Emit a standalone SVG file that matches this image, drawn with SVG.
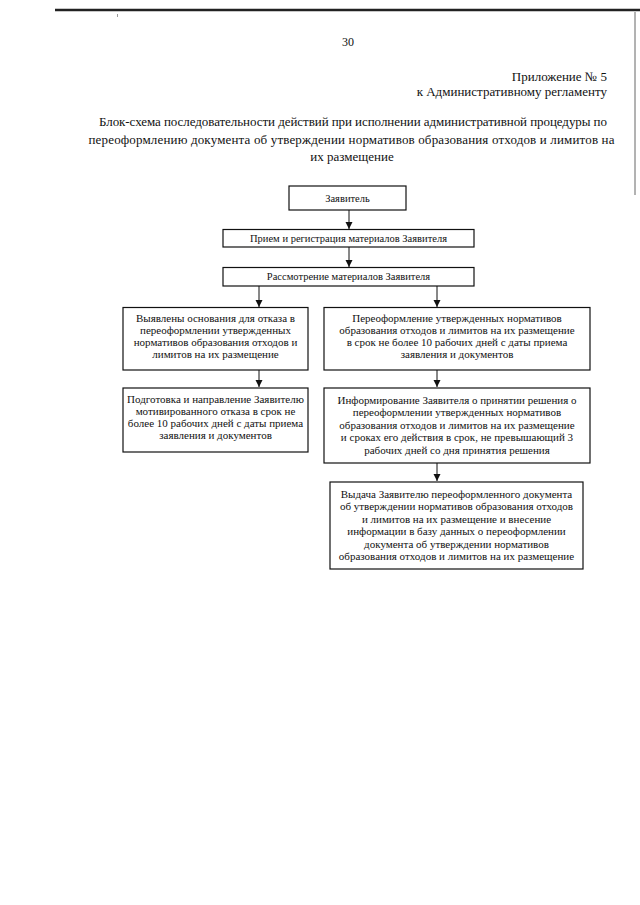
<svg xmlns="http://www.w3.org/2000/svg" width="640" height="905" viewBox="0 0 640 905">
<style>
text{font-family:"Liberation Serif","Times New Roman",serif;fill:#111}
.hd{font-size:13px}
.bx{font-size:11px;text-anchor:middle}
.box{fill:#fff;stroke:#111;stroke-width:1.2}
.cn{stroke:#111;stroke-width:1;fill:none}
</style>
<defs>
<marker id="ah" markerWidth="8" markerHeight="8" refX="7" refY="4" orient="auto" markerUnits="userSpaceOnUse">
<path d="M0,0.5 L7,4 L0,7.5 Z" fill="#111"/>
</marker>
</defs>
<rect width="640" height="905" fill="#fff"/>
<g id="page">
<line x1="55" y1="10" x2="640" y2="10" stroke="#222" stroke-width="2.5"/>
<line x1="635" y1="12" x2="635" y2="195" stroke="#666" stroke-width="1"/>
<rect x="117" y="14" width="1" height="3" fill="#999"/>
<text class="hd" x="348" y="46" text-anchor="middle" style="font-size:12px">30</text>
<text class="hd" x="607" y="81" text-anchor="end">Приложение № 5</text>
<text class="hd" x="607" y="96" text-anchor="end">к Административному регламенту</text>
<text class="hd" x="353" y="126" text-anchor="middle" textLength="508">Блок-схема последовательности действий при исполнении административной процедуры по</text>
<text class="hd" x="351.5" y="144" text-anchor="middle" textLength="526">переоформлению документа об утверждении нормативов образования отходов и лимитов на</text>
<text class="hd" x="352" y="161" text-anchor="middle">их размещение</text>
</g>
<g id="connectors">
<line class="cn" x1="349" y1="210" x2="349" y2="229" marker-end="url(#ah)"/>
<line class="cn" x1="349" y1="247" x2="349" y2="267" marker-end="url(#ah)"/>
<line class="cn" x1="259" y1="286" x2="259" y2="307" marker-end="url(#ah)"/>
<line class="cn" x1="437" y1="286" x2="437" y2="307" marker-end="url(#ah)"/>
<line class="cn" x1="259" y1="370" x2="259" y2="387" marker-end="url(#ah)"/>
<line class="cn" x1="437" y1="370" x2="437" y2="387" marker-end="url(#ah)"/>
<line class="cn" x1="437" y1="463" x2="437" y2="481" marker-end="url(#ah)"/>
</g>
<g id="n1">
<rect class="box" x="289" y="186" width="117" height="24"/>
<text class="bx" x="347.5" y="201.5" style="font-size:10.5px">Заявитель</text>
</g>
<g id="n2">
<rect class="box" x="223" y="229.5" width="251" height="17.5"/>
<text class="bx" x="348.5" y="242" style="font-size:10.5px">Прием и регистрация материалов Заявителя</text>
</g>
<g id="n3">
<rect class="box" x="223" y="267.5" width="251" height="18.5"/>
<text class="bx" x="348.5" y="280" style="font-size:10.5px">Рассмотрение материалов Заявителя</text>
</g>
<g id="n4">
<rect class="box" x="123" y="307.5" width="185" height="62.5"/>
<text class="bx" x="215.5" y="322">Выявлены основания для отказа в</text>
<text class="bx" x="215.5" y="334">переоформлении утвержденных</text>
<text class="bx" x="215.5" y="346">нормативов образования отходов и</text>
<text class="bx" x="215.5" y="358">лимитов на их размещение</text>
</g>
<g id="n5">
<rect class="box" x="324" y="307.5" width="266" height="62.5"/>
<text class="bx" x="457" y="321.5">Переоформление утвержденных нормативов</text>
<text class="bx" x="457" y="333.5">образования отходов и лимитов на их размещение</text>
<text class="bx" x="457" y="345.5">в срок не более 10 рабочих дней с даты приема</text>
<text class="bx" x="457" y="357.5">заявления и документов</text>
</g>
<g id="n6">
<rect class="box" x="123" y="388" width="185" height="64"/>
<text class="bx" x="215.5" y="402.5">Подготовка и направление Заявителю</text>
<text class="bx" x="215.5" y="414.5">мотивированного отказа в срок не</text>
<text class="bx" x="215.5" y="426.5">более 10 рабочих дней с даты приема</text>
<text class="bx" x="215.5" y="438.5">заявления и документов</text>
</g>
<g id="n7">
<rect class="box" x="324" y="388" width="266" height="75"/>
<text class="bx" x="457" y="403.5">Информирование Заявителя о принятии решения о</text>
<text class="bx" x="457" y="416">переоформлении утвержденных нормативов</text>
<text class="bx" x="457" y="428.5">образования отходов и лимитов на их размещение</text>
<text class="bx" x="457" y="441">и сроках его действия в срок, не превышающий 3</text>
<text class="bx" x="457" y="453.5">рабочих дней со дня принятия решения</text>
</g>
<g id="n8">
<rect class="box" x="330" y="482" width="253" height="87"/>
<text class="bx" x="456.5" y="497.5">Выдача Заявителю переоформленного документа</text>
<text class="bx" x="456.5" y="510">об утверждении нормативов образования отходов</text>
<text class="bx" x="456.5" y="522.5">и лимитов на их размещение и внесение</text>
<text class="bx" x="456.5" y="535">информации в базу данных о переоформлении</text>
<text class="bx" x="456.5" y="547.5">документа об утверждении нормативов</text>
<text class="bx" x="456.5" y="560">образования отходов и лимитов на их размещение</text>
</g>
</svg>
